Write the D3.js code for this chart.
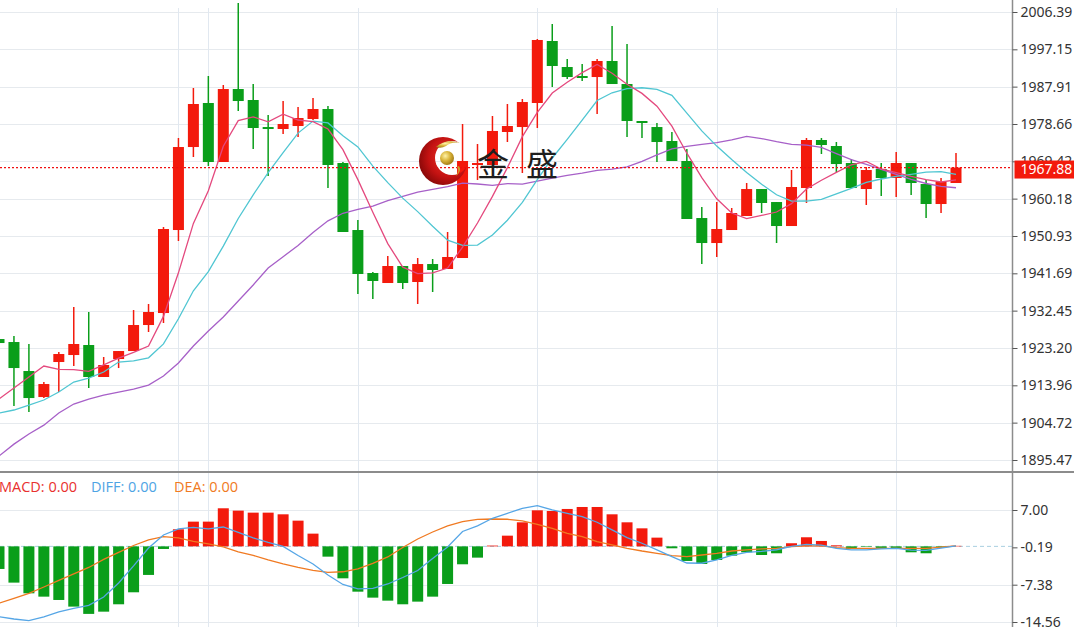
<!DOCTYPE html>
<html><head><meta charset="utf-8">
<script src="https://cdn.jsdelivr.net/npm/d3@7"></script>
<style>
body{margin:0;background:#fff;overflow:hidden}
svg{display:block}
</style>
</head><body>
<svg id="c" width="1074" height="627"></svg>
<script>
// ---------- DATA ----------
const openP=[1925.42,1924.68,1917.50,1911.06,1919.73,1921.46,1923.94,1916.02,1920.47,1922.45,1928.89,1931.86,1952.41,1972.96,1983.86,1969.25,1987.32,1984.60,1977.91,1977.42,1978.16,1979.90,1982.37,1969.00,1952.41,1941.77,1939.29,1943.50,1939.54,1943.99,1942.76,1945.48,1968.51,1968.51,1976.68,1977.91,1983.86,1999.21,1992.77,1990.54,1990.29,1994.26,1988.56,1979.40,1977.91,1974.45,1969.50,1955.38,1949.19,1952.41,1955.88,1962.56,1959.34,1953.40,1962.81,1974.70,1973.21,1969.00,1962.56,1967.52,1965.29,1969.00,1963.80,1958.85,1964.05];
const highP=[1925.67,1926.17,1924.19,1914.78,1922.20,1933.35,1932.11,1920.97,1922.45,1932.60,1934.09,1953.15,1975.19,1987.57,1990.54,1988.31,2008.62,1988.56,1980.89,1984.35,1982.87,1985.10,1983.11,1969.25,1954.89,1942.01,1945.97,1943.50,1945.48,1945.23,1951.92,1978.66,1973.71,1980.64,1983.61,1984.85,1999.70,2003.42,1994.75,1993.51,1994.75,2002.92,1998.47,1979.40,1978.91,1976.68,1972.47,1958.11,1959.34,1957.86,1964.05,1962.56,1959.34,1967.27,1975.19,1975.19,1974.20,1969.99,1968.01,1969.00,1971.72,1969.00,1964.79,1965.29,1971.48];
const lowP=[1924.19,1908.83,1907.35,1910.81,1912.30,1918.74,1913.29,1916.02,1918.24,1922.45,1927.16,1929.39,1949.69,1970.49,1968.26,1969.25,1981.88,1972.47,1965.78,1976.18,1975.44,1979.65,1962.81,1951.92,1936.57,1935.33,1939.29,1937.80,1934.09,1937.06,1942.76,1945.48,1964.79,1968.51,1974.20,1966.53,1977.67,1987.82,1989.80,1989.30,1981.13,1988.56,1975.44,1975.19,1969.25,1969.50,1955.14,1943.99,1945.73,1952.41,1955.88,1956.62,1949.19,1953.40,1959.10,1971.23,1966.77,1962.81,1958.60,1960.83,1960.58,1961.08,1955.38,1956.61,1964.05];
const closeP=[1924.43,1918.24,1910.81,1914.28,1921.71,1924.19,1916.02,1918.99,1922.45,1928.89,1932.11,1952.66,1972.96,1983.61,1969.25,1987.32,1984.35,1977.67,1977.42,1978.66,1980.14,1982.37,1968.51,1951.92,1941.52,1939.79,1943.50,1939.29,1943.99,1942.51,1945.73,1969.50,1969.00,1976.93,1978.16,1984.10,1999.46,1993.02,1990.29,1990.05,1994.26,1988.56,1979.40,1978.91,1974.20,1969.50,1955.14,1949.19,1952.66,1956.62,1962.56,1959.10,1953.40,1963.06,1974.70,1973.46,1968.75,1962.81,1967.27,1965.29,1969.00,1964.05,1958.85,1964.30,1967.88];

const ma5=[1910.57,1913.29,1916.02,1918.74,1917.89,1917.85,1917.40,1919.04,1920.67,1922.11,1923.69,1931.02,1941.81,1954.05,1962.12,1973.16,1979.50,1980.44,1979.20,1981.08,1979.65,1979.25,1977.42,1972.32,1964.89,1956.82,1949.05,1943.20,1941.62,1941.82,1943.00,1948.20,1954.15,1960.73,1967.86,1975.54,1981.53,1986.33,1989.01,1991.38,1993.42,1991.24,1988.51,1986.24,1983.07,1978.11,1971.43,1965.39,1960.14,1956.62,1955.23,1956.03,1956.87,1958.95,1962.56,1964.74,1966.67,1968.56,1969.40,1967.52,1966.62,1965.68,1964.89,1964.30,1964.82];
const ma10=[1907.10,1907.85,1909.08,1910.32,1912.30,1914.78,1915.77,1917.25,1919.73,1920.00,1920.77,1924.21,1930.43,1937.36,1942.12,1948.43,1955.26,1961.13,1966.63,1971.60,1976.41,1979.38,1978.93,1975.76,1972.99,1968.24,1964.15,1960.31,1956.97,1953.36,1949.91,1948.63,1948.68,1951.18,1954.84,1959.27,1964.87,1970.24,1974.87,1979.62,1984.48,1986.39,1987.42,1987.63,1987.23,1985.77,1981.34,1976.95,1973.19,1969.85,1966.67,1963.73,1961.13,1959.55,1959.59,1959.99,1961.35,1962.72,1964.18,1965.04,1965.68,1966.18,1966.73,1966.85,1966.17];
const ma20=[1896.46,1899.40,1901.90,1904.10,1907.10,1909.33,1910.57,1911.56,1912.30,1913.04,1914.03,1916.26,1919.48,1923.69,1927.41,1930.87,1934.83,1938.80,1943.00,1945.80,1948.59,1951.79,1954.68,1956.56,1957.55,1958.33,1959.71,1960.72,1961.80,1962.48,1963.16,1964.00,1963.80,1963.47,1963.91,1963.75,1964.51,1965.28,1965.92,1966.49,1967.20,1967.51,1968.05,1969.40,1971.03,1972.52,1973.10,1973.60,1974.03,1974.73,1975.58,1975.06,1974.28,1973.59,1973.41,1972.88,1971.34,1969.83,1968.68,1967.44,1966.18,1964.95,1963.93,1963.20,1962.88];

const macdHist=[-4.35,-6.98,-9.04,-9.68,-10.32,-11.60,-13.00,-12.57,-11.15,-8.84,-5.50,-0.50,3.29,4.76,4.76,7.33,6.88,6.49,6.49,6.17,4.95,2.45,-1.98,-6.15,-8.72,-9.87,-10.45,-11.15,-10.64,-9.68,-7.24,-3.45,-2.17,0.15,2.06,4.63,6.94,6.81,7.20,7.58,7.58,6.17,4.63,3.47,1.68,-0.37,-2.81,-3.39,-2.62,-1.79,-1.14,-1.66,-1.33,0.60,1.75,1.04,0.20,-0.50,-0.10,-0.30,-0.30,-1.14,-1.33,-0.20,0.10];
const diffV=[-13.53,-13.98,-14.30,-13.59,-12.63,-11.95,-11.34,-9.74,-7.05,-3.77,-0.31,2.19,3.35,3.64,3.35,3.73,2.68,1.62,0.75,-0.02,-1.75,-3.39,-5.51,-7.33,-8.20,-8.07,-7.24,-5.99,-4.64,-2.33,-0.12,2.87,3.93,5.41,6.37,7.33,7.83,7.01,6.37,5.72,4.64,3.16,1.67,0.60,-0.69,-1.98,-3.20,-3.25,-2.62,-1.75,-1.14,-0.98,-0.65,-0.02,0.40,0.23,-0.37,-0.69,-0.69,-0.50,-0.40,-0.73,-0.79,-0.35,0.08];
const deaV=[-10.95,-9.99,-9.03,-7.82,-6.56,-5.31,-4.06,-2.52,-1.17,0.17,1.23,1.87,1.62,0.98,0.46,-0.12,-1.08,-1.75,-2.62,-3.39,-4.06,-4.64,-4.99,-4.89,-4.35,-3.29,-2.04,-0.21,1.42,2.77,3.93,4.75,5.20,5.27,5.22,4.89,4.25,3.48,2.52,1.87,0.90,0.27,-0.37,-0.89,-1.33,-1.79,-1.98,-1.66,-1.33,-0.89,-0.69,-0.50,-0.37,-0.06,0.08,0.08,-0.25,-0.37,-0.37,-0.37,-0.37,-0.37,-0.37,-0.17,0.08];

const priceTicks=[2006.39,1997.15,1987.91,1978.66,1969.42,1960.18,1950.93,1941.69,1932.45,1923.20,1913.96,1904.72,1895.47];
const macdTicks=[7.00,-0.19,-7.38,-14.56];
const gridIdx=[12,14,24,36,48,60];
const lastPrice=1967.88;
const legend=[{t:"MACD: 0.00",c:"#e8302e",x:-1},{t:"DIFF: 0.00",c:"#4ea4e4",x:91},{t:"DEA: 0.00",c:"#f07a22",x:174}];

// ---------- LAYOUT ----------
const W=1074,H=627,AX=1012.5,MAINB=471,SUBT=473;
const RED="#f31a0c",GREEN="#0a9e1a";
const svg=d3.select("#c");
const N=closeP.length;
const x=d3.scaleLinear().domain([0,N-1]).range([-1,956]);
const y=d3.scaleLinear().domain([1895.47,2006.39]).range([460,12]);
const ym=d3.scaleLinear().domain([-14.56,7.00]).range([622,510]);
const BW=11;

const defs=svg.append("defs");
defs.append("clipPath").attr("id","cm").append("rect").attr("x",0).attr("y",0).attr("width",AX).attr("height",MAINB);
defs.append("clipPath").attr("id","cs").append("rect").attr("x",0).attr("y",SUBT).attr("width",AX).attr("height",H-SUBT);

// grids
const grid=svg.append("g");
grid.selectAll(".hg").data(priceTicks).join("line")
  .attr("x1",0).attr("x2",AX).attr("y1",d=>Math.round(y(d))+0.5).attr("y2",d=>Math.round(y(d))+0.5)
  .attr("stroke","#e6eaee").attr("stroke-width",1);
grid.selectAll(".mg").data(macdTicks.filter(d=>d!==-0.19)).join("line")
  .attr("x1",0).attr("x2",AX).attr("y1",d=>Math.round(ym(d))+0.5).attr("y2",d=>Math.round(ym(d))+0.5)
  .attr("stroke","#e6eaee").attr("stroke-width",1);
grid.selectAll(".vg").data(gridIdx).join("line")
  .attr("x1",d=>Math.round(x(d))+0.5).attr("x2",d=>Math.round(x(d))+0.5).attr("y1",8).attr("y2",H)
  .attr("stroke","#e1e8f0").attr("stroke-width",1);

// main panel
const gm=svg.append("g").attr("clip-path","url(#cm)");
const idx=d3.range(N);
gm.selectAll(".wick").data(idx).join("line")
  .attr("x1",i=>x(i)).attr("x2",i=>x(i))
  .attr("y1",i=>y(highP[i])).attr("y2",i=>y(lowP[i]))
  .attr("stroke",i=>closeP[i]>=openP[i]?RED:GREEN).attr("stroke-width",1.5);
gm.selectAll(".body").data(idx).join("rect")
  .attr("x",i=>x(i)-BW/2).attr("width",BW)
  .attr("y",i=>y(Math.max(openP[i],closeP[i])))
  .attr("height",i=>Math.max(1.5,Math.abs(y(openP[i])-y(closeP[i]))))
  .attr("fill",i=>closeP[i]>=openP[i]?RED:GREEN);

const line=d3.line().x((d,i)=>x(i)).y(d=>y(d));
[[ma20,"#a760c8"],[ma10,"#50c6d2"],[ma5,"#e4497e"]].forEach(([arr,c])=>{
  gm.append("path").attr("d",line(arr)).attr("fill","none").attr("stroke",c).attr("stroke-width",1.3);
});

// last price dotted line
gm.append("line").attr("x1",0).attr("x2",AX).attr("y1",y(lastPrice)).attr("y2",y(lastPrice))
  .attr("stroke","#f01010").attr("stroke-width",1.2).attr("stroke-dasharray","2,2");

// logo
const lg=svg.append("g");
const rg=defs.append("radialGradient").attr("id","rg").attr("cx","0.62").attr("cy","0.42").attr("r","0.7");
rg.append("stop").attr("offset","0").attr("stop-color","#f03a2a");
rg.append("stop").attr("offset","0.6").attr("stop-color","#c41212");
rg.append("stop").attr("offset","1").attr("stop-color","#7a0606");
const gg=defs.append("radialGradient").attr("id","gg").attr("cx","0.38").attr("cy","0.35").attr("r","0.7");
gg.append("stop").attr("offset","0").attr("stop-color","#fff2a8");
gg.append("stop").attr("offset","0.5").attr("stop-color","#d9b43a");
gg.append("stop").attr("offset","1").attr("stop-color","#9c7410");
const mk=defs.append("mask").attr("id","crm");
mk.append("rect").attr("x",400).attr("y",120).attr("width",100).attr("height",80).attr("fill","#fff");
mk.append("circle").attr("cx",452).attr("cy",158).attr("r",17).attr("fill","#000");
lg.append("circle").attr("cx",443).attr("cy",161).attr("r",24).attr("fill","url(#rg)").attr("mask","url(#crm)");
lg.append("path").attr("d","M436,147 Q446,138 460,143 Q452,141 446,146 Q441,149 436,147 Z").attr("fill","url(#gg)");
lg.append("path").attr("d","M459,166 Q462,171 456,176 Q460,170 457,167 Z").attr("fill","#c9a22a");
lg.append("circle").attr("cx",447).attr("cy",158).attr("r",7).attr("fill","url(#gg)");
lg.append("text").attr("x",477).attr("y",176).text("金")
  .attr("font-family","'Noto Sans CJK SC'").attr("font-size",32).attr("fill","#1e1e1e");
lg.append("text").attr("x",526).attr("y",176).text("盛")
  .attr("font-family","'Noto Sans CJK SC'").attr("font-size",32).attr("fill","#1e1e1e");

// MACD panel
const gs=svg.append("g").attr("clip-path","url(#cs)");
gs.append("line").attr("x1",0).attr("x2",AX).attr("y1",ym(0)).attr("y2",ym(0))
  .attr("stroke","#a9cfe0").attr("stroke-width",1).attr("stroke-dasharray","4,3");
gs.selectAll(".bar").data(idx).join("rect")
  .attr("x",i=>x(i)-BW/2).attr("width",BW)
  .attr("y",i=>Math.min(ym(0),ym(macdHist[i])))
  .attr("height",i=>Math.abs(ym(macdHist[i])-ym(0)))
  .attr("fill",i=>macdHist[i]>=0?RED:GREEN);
const mline=d3.line().x((d,i)=>x(i)).y(d=>ym(d));
gs.append("path").attr("d",mline(deaV)).attr("fill","none").attr("stroke","#f07a22").attr("stroke-width",1.3);
gs.append("path").attr("d",mline(diffV)).attr("fill","none").attr("stroke","#56a6e6").attr("stroke-width",1.3);

// legend
svg.selectAll(".lgd").data(legend).join("text")
  .attr("x",d=>d.x).attr("y",492).text(d=>d.t).attr("fill",d=>d.c)
  .attr("font-family","'Open Sans'").attr("font-size",14.5);

// separator and axis line
svg.append("line").attr("x1",0).attr("x2",W).attr("y1",472).attr("y2",472).attr("stroke","#8c8c8c").attr("stroke-width",2);
svg.append("line").attr("x1",AX).attr("x2",AX).attr("y1",0).attr("y2",H).attr("stroke","#8c8c8c").attr("stroke-width",1.5);

// axes
const ax1=svg.append("g").attr("transform",`translate(${AX},0)`)
  .call(d3.axisRight(y).tickValues(priceTicks).tickFormat(d=>d.toFixed(2)).tickSize(5).tickPadding(3));
const ax2=svg.append("g").attr("transform",`translate(${AX},0)`)
  .call(d3.axisRight(ym).tickValues(macdTicks).tickFormat(d=>d.toFixed(2)).tickSize(5).tickPadding(3));
[ax1,ax2].forEach(a=>{
  a.select(".domain").remove();
  a.selectAll(".tick line").attr("stroke","#555");
  a.selectAll(".tick text").attr("fill","#333").attr("font-family","'Noto Sans'").attr("font-size",14);
});

// last price label
const yl=y(lastPrice);
svg.append("rect").attr("x",AX+2).attr("y",yl-7).attr("width",W-AX-2).attr("height",18).attr("fill",RED);
svg.append("text").attr("x",AX+8).attr("y",yl+2).attr("dy","0.32em").text(lastPrice.toFixed(2))
  .attr("fill","#fff").attr("font-family","'Noto Sans'").attr("font-size",14);
</script>
</body></html>
